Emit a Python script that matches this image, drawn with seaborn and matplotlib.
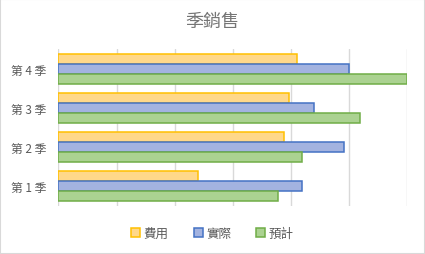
import matplotlib
matplotlib.use("Agg")
import matplotlib.pyplot as plt
import matplotlib.patches as mpatches
import seaborn as sns
import pandas as pd

quarters = ["第 4 季", "第 3 季", "第 2 季", "第 1 季"]
series = ["費用", "實際", "預計"]
cost = [4.11, 3.97, 3.89, 2.40]
actual = [5.00, 4.40, 4.93, 4.19]
forecast = [6.00, 5.19, 4.19, 3.79]

fills = {"費用": "#FFD88A", "實際": "#A3B3E0", "預計": "#ABD291"}
edges = {"費用": "#FFC000", "實際": "#4472C4", "預計": "#70AD47"}

rows = []
for s, vals in zip(series, [cost, actual, forecast]):
    for q, v in zip(quarters, vals):
        rows.append({"季": q, "系列": s, "值": v})
df = pd.DataFrame(rows)

sns.set_theme(style="white")
plt.rcParams["font.family"] = ["Noto Sans CJK TC", "DejaVu Sans"]

fig = plt.figure(figsize=(4.25, 2.55), dpi=100)
ax = fig.add_axes([58.5 / 425, 1 - 207 / 255, (406.5 - 58.5) / 425, 157 / 255])

sns.barplot(data=df, x="值", y="季", hue="系列", order=quarters, hue_order=series,
            palette=fills, saturation=1, orient="h", width=0.76, gap=0, ax=ax, legend=False,
            linewidth=1.1, edgecolor="none")

for container, s in zip(ax.containers, series):
    for bar in container:
        bar.set_edgecolor(edges[s])
        bar.set_linewidth(1.1)

ax.set_xlim(0, 6)
ax.set_ylim(3.5, -0.5)
ax.set_xticks(range(0, 7))
ax.set_xticklabels([])
ax.tick_params(axis="x", length=0)
ax.tick_params(axis="y", length=0, labelsize=8.5, labelcolor="#595959", pad=9)
ax.xaxis.grid(True, color="#D9D9D9", linewidth=1)
ax.yaxis.grid(False)
ax.set_axisbelow(True)
for sp in ax.spines.values():
    sp.set_visible(False)
ax.set_xlabel("")
ax.set_ylabel("")

fig.text(0.5, 1 - 22 / 255, "季銷售", ha="center", va="center", fontsize=13, color="#757575")

handles = [mpatches.Patch(facecolor=fills[s], edgecolor=edges[s], linewidth=1.1, label=s) for s in series]
fig.legend(handles=handles, loc="center", bbox_to_anchor=(0.5, 1 - 234 / 255), ncol=3,
           frameon=False, fontsize=9, labelcolor="#595959", handlelength=0.7, handleheight=0.7,
           handletextpad=0.3, columnspacing=2.0)

fig.patches.append(mpatches.Rectangle((0, 0), 1, 1, transform=fig.transFigure, fill=False,
                                      edgecolor="#D9D9D9", linewidth=1.5))

fig.savefig("out.png", dpi=100)
